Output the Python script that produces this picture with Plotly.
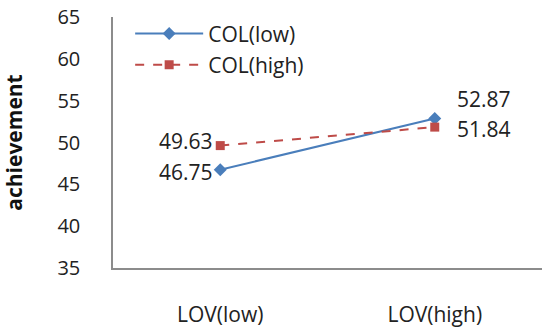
import plotly.graph_objects as go

categories = ["LOV(low)", "LOV(high)"]
col_low = [46.75, 52.87]
col_high = [49.63, 51.84]
y_ticks = [35, 40, 45, 50, 55, 60, 65]

FONT = "Open Sans"
TXT = "#222222"
x_idx = list(range(len(categories)))

fig = go.Figure()
fig.add_trace(go.Scatter(
    x=x_idx, y=col_low, name="COL(low)", mode="lines+markers",
    legendgroup="a",
    line=dict(color="#4a7ebb", width=2),
    marker=dict(symbol="diamond", size=10, color="#4a7ebb"),
))
fig.add_trace(go.Scatter(
    x=x_idx, y=col_high, name="COL(high)", mode="lines+markers",
    legendgroup="b",
    line=dict(color="#be4b48", width=2, dash="dash"),
    marker=dict(symbol="square", size=9, color="#be4b48"),
))

# data labels: (category index, value, anchor side, xshift, yshift)
label_specs = [
    (0, col_low[0], "right", -5, -2),
    (1, col_low[1], "left", 20, 19),
    (0, col_high[0], "right", -5, 5),
    (1, col_high[1], "left", 20, -2),
]
for xi, v, anchor, dx, dy in label_specs:
    fig.add_annotation(
        x=xi, y=v, text=f"{v:.2f}", showarrow=False,
        xanchor=anchor, yanchor="middle",
        xshift=dx, yshift=dy,
        font=dict(family=FONT, size=21, color=TXT),
    )

fig.update_layout(
    width=542, height=328,
    margin=dict(l=113, r=0, t=17, b=51),
    paper_bgcolor="white", plot_bgcolor="white",
    font=dict(family=FONT, size=20, color=TXT),
    showlegend=True,
    legend=dict(
        x=0.040, y=1.015, xanchor="left", yanchor="top",
        bgcolor="rgba(0,0,0,0)", font=dict(family=FONT, size=21, color=TXT),
        itemwidth=68, traceorder="grouped", tracegroupgap=1,
    ),
    xaxis=dict(
        tickmode="array", tickvals=x_idx, ticktext=categories,
        range=[-0.5, 1.5], showline=True, linecolor="#8c8c8c", linewidth=1.5,
        showgrid=False, zeroline=False, ticks="", ticklabelstandoff=27,
        tickfont=dict(family=FONT, size=21, color=TXT),
    ),
    yaxis=dict(
        tickmode="array", tickvals=y_ticks, range=[35, 65],
        showline=True, linecolor="#8c8c8c", linewidth=1.5,
        showgrid=False, zeroline=False, ticks="", ticklabelstandoff=27,
        tickfont=dict(family=FONT, size=20, color=TXT),
        title=dict(text="<b>achievement</b>", standoff=30,
                   font=dict(family=FONT, size=21, color="#111111")),
    ),
)

fig.write_html("out.html")
